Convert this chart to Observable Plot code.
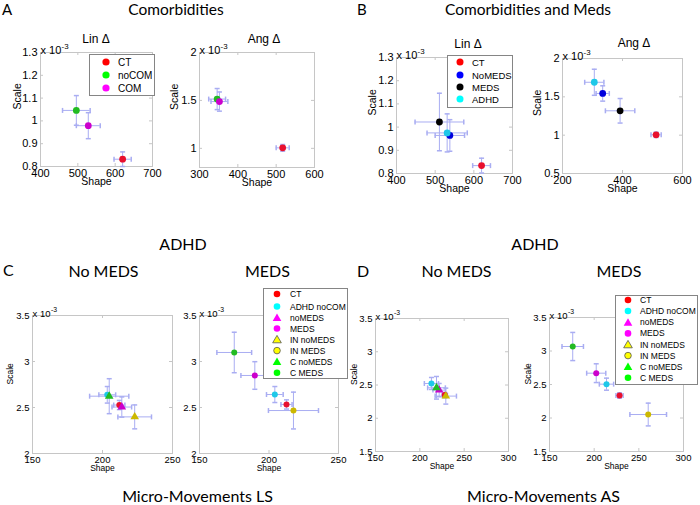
<!DOCTYPE html>
<html><head><meta charset="utf-8">
<script src="https://cdn.jsdelivr.net/npm/d3@7"></script>
<script src="https://cdn.jsdelivr.net/npm/@observablehq/plot@0.6"></script>
<style>
body{margin:0;background:#fff;}
#root{position:relative;width:700px;height:505px;overflow:hidden;background:#fff;}
.panel{position:absolute;}
.panel svg{background:transparent !important;max-width:none !important;overflow:visible;}
</style></head><body><div id="root"></div><script>
// ---------------- DATA (scale values are ×10^-3) ----------------
// A: Comorbidities
const groupsA = ["CT", "noCOM", "COM"];
const linA_shape    = [620, 496, 528];
const linA_shapeErr = [23, 37, 32];
const linA_scale    = [0.832, 1.046, 0.979];
const linA_scaleErr = [0.032, 0.065, 0.057];
const angA_shape    = [517, 346, 352];
const angA_shapeErr = [17, 22, 22];
const angA_scale    = [1.005, 1.514, 1.488];
const angA_scaleErr = [0.035, 0.11, 0.10];
// B: Comorbidities and Meds
const groupsB = ["CT", "NoMEDS", "MEDS", "ADHD"];
const linB_shape    = [620, 538, 511, 531];
const linB_shapeErr = [23, 38, 63, 52];
const linB_scale    = [0.834, 0.964, 1.022, 0.975];
const linB_scaleErr = [0.032, 0.068, 0.124, 0.082];
const angB_shape    = [512, 334, 392, 306];
const angB_shapeErr = [17, 22, 49, 32];
const angB_scale    = [1.005, 1.544, 1.318, 1.69];
const angB_scaleErr = [0.035, 0.10, 0.16, 0.17];
// C / D groups
const groupsNoMeds = ["CT", "ADHD noCOM", "noMEDS", "IN noMEDS", "C noMEDS"];
const groupsMeds   = ["CT", "ADHD noCOM", "MEDS", "IN MEDS", "C MEDS"];
// C: Micro-Movements LS
const lsNo_shape      = [212, 203.4, 213.8, 223, 204.8];
const lsNo_shapeErr   = [4, 6, 7, 12, 14];
const lsNo_scale      = [2.527, 2.638, 2.505, 2.398, 2.623];
const lsNo_scaleErr   = [0.05, 0.09, 0.11, 0.13, 0.19];
const lsMeds_shape    = [212.6, 204.2, 189.8, 217.6, 175];
const lsMeds_shapeErr = [4, 6, 10, 18, 12.5];
const lsMeds_scale    = [2.533, 2.641, 2.848, 2.467, 3.098];
const lsMeds_scaleErr = [0.05, 0.087, 0.15, 0.2, 0.22];
// D: Micro-Movements AS
const asNo_shape      = [228.1, 213.1, 221.8, 229.3, 218.8];
const asNo_shapeErr   = [3, 8, 7, 12, 10];
const asNo_scale      = [2.348, 2.523, 2.423, 2.333, 2.458];
const asNo_scaleErr   = [0.04, 0.09, 0.10, 0.12, 0.17];
const asMeds_shape    = [228.4, 213.8, 202.3, 260.5, 176];
const asMeds_shapeErr = [4, 8, 10.7, 20.5, 12];
const asMeds_scale    = [2.336, 2.505, 2.669, 2.052, 3.067];
const asMeds_scaleErr = [0.04, 0.09, 0.14, 0.17, 0.21];
// tick labels
const linTicksX  = [400, 500, 600, 700];
const linTicksY  = [0.8, 0.9, 1, 1.1, 1.2, 1.3];
const angATicksX = [300, 400, 500, 600];
const angATicksY = [1, 1.5, 2];
const angBTicksX = [200, 400, 600];
const angBTicksY = [0.5, 1, 1.5, 2];
const lsTicksX   = [150, 200, 250];
const lsTicksY   = [2, 2.5, 3, 3.5];
const asTicksX   = [150, 200, 250, 300];
const asTicksY   = [1.5, 2, 2.5, 3, 3.5];
// legends
const legendA  = ["CT", "noCOM", "COM"];
const legendB  = ["CT", "NoMEDS", "MEDS", "ADHD"];
const legendCD = ["CT", "ADHD noCOM", "noMEDS", "MEDS", "IN noMEDS", "IN MEDS", "C noMEDS", "C MEDS"];

// ---------------- STYLE ----------------
const ERR = "#a9adf2", FRAME = "#c6c6c6";
const C = {red:"#e8102e", green:"#22bb22", magenta:"#cc00cc", cyan:"#1ec8e8", blue:"#0000dd", black:"#000000", yellow:"#ccb800"};
const LC = {red:"#ff0000", green:"#00ff00", magenta:"#ff00ff", cyan:"#00ffff", blue:"#0000ff", black:"#000000", yellow:"#ffff00"};
const colA = {CT:"red", noCOM:"green", COM:"magenta"};
const colB = {CT:"red", NoMEDS:"blue", MEDS:"black", ADHD:"cyan"};
const colCD = {"CT":"red", "ADHD noCOM":"cyan", "noMEDS":"magenta", "MEDS":"magenta", "IN noMEDS":"yellow", "IN MEDS":"yellow", "C noMEDS":"green", "C MEDS":"green"};
const triGroups = ["noMEDS", "IN noMEDS", "C noMEDS"];
const FONT = "'Liberation Sans', Arial, sans-serif";
const TFONT = "Lato, 'Open Sans', sans-serif";

function rows(groups, shape, shapeErr, scale, scaleErr) {
  return groups.map((g, i) => ({group: g, shape: shape[i], shapeErr: shapeErr[i], scale: scale[i], scaleErr: scaleErr[i]}));
}
const hCap = {draw(ctx, size){ const r = Math.sqrt(size / Math.PI); ctx.moveTo(-r, 0); ctx.lineTo(r, 0); }};
const vCap = {draw(ctx, size){ const r = Math.sqrt(size / Math.PI); ctx.moveTo(0, -r); ctx.lineTo(0, r); }};

const root = document.getElementById("root");

function drawPanel(cfg) {
  const {frame: [fl, ft, fr, fb], xDomain, xTicks, yDomain, yTicks, data, colors, scaleDx, small} = cfg;
  const mL = 36, mR = 16, mT = 18, mB = 28;
  const w = fr - fl, h = fb - ft;
  const fs = small ? 9.5 : 11;
  const lfs = small ? 8.5 : 10.5;
  const fmt = d => String(+d.toFixed(3));
  const isTri = d => triGroups.includes(d.group);
  const fillOf = d => C[colors[d.group]];
  const marks = [
    Plot.frame({stroke: FRAME}),
    Plot.tickX(xTicks, {x: d => d, insetTop: h - 3, stroke: FRAME}),
    Plot.tickX(xTicks, {x: d => d, insetBottom: h - 3, stroke: FRAME}),
    Plot.tickY(yTicks, {y: d => d, insetRight: w - 3, stroke: FRAME}),
    Plot.tickY(yTicks, {y: d => d, insetLeft: w - 3, stroke: FRAME}),
    Plot.axisX({ticks: xTicks, tickFormat: fmt, tickSize: 0, tickPadding: 3, fontSize: fs, label: null}),
    Plot.axisY({ticks: yTicks, tickFormat: fmt, tickSize: 0, tickPadding: 3, fontSize: fs, label: null}),
    Plot.ruleY(data, {y: "scale", x1: d => d.shape - d.shapeErr, x2: d => d.shape + d.shapeErr, stroke: ERR}),
    Plot.ruleX(data, {x: "shape", y1: d => d.scale - d.scaleErr, y2: d => d.scale + d.scaleErr, stroke: ERR}),
    Plot.dot(data, {x: d => d.shape - d.shapeErr, y: "scale", symbol: vCap, r: 2.5, stroke: ERR}),
    Plot.dot(data, {x: d => d.shape + d.shapeErr, y: "scale", symbol: vCap, r: 2.5, stroke: ERR}),
    Plot.dot(data, {x: "shape", y: d => d.scale - d.scaleErr, symbol: hCap, r: 2.5, stroke: ERR}),
    Plot.dot(data, {x: "shape", y: d => d.scale + d.scaleErr, symbol: hCap, r: 2.5, stroke: ERR}),
    Plot.dot(data.filter(d => !isTri(d)), {x: "shape", y: "scale", r: small ? 3 : 3.4, fill: fillOf, stroke: "none"}),
    Plot.dot(data.filter(isTri), {x: "shape", y: "scale", symbol: "triangle", r: 3.2, fill: fillOf, stroke: "none"}),
    Plot.text(["Shape"], {frameAnchor: "bottom", dy: small ? 17 : 18, fontSize: lfs, text: d => d}),
    Plot.text(["x 10"], {frameAnchor: "top-left", textAnchor: "start", lineAnchor: "bottom", dy: 1, fontSize: fs, text: d => d}),
    Plot.text(["-3"], {frameAnchor: "top-left", textAnchor: "start", lineAnchor: "bottom", dx: small ? 18.5 : 21, dy: -4, fontSize: fs * 0.72, text: d => d})
  ];
  if (scaleDx != null) marks.push(Plot.text(["Scale"], {frameAnchor: "left", dx: scaleDx, rotate: -90, fontSize: lfs, text: d => d}));
  const chart = Plot.plot({
    width: w + mL + mR, height: h + mT + mB,
    marginLeft: mL, marginRight: mR, marginTop: mT, marginBottom: mB,
    x: {domain: xDomain}, y: {domain: yDomain},
    color: {type: "identity"},
    style: {fontFamily: FONT, color: "#000", background: "transparent", overflow: "visible"},
    marks
  });
  const div = document.createElement("div");
  div.className = "panel";
  div.style.left = (fl - mL) + "px";
  div.style.top = (ft - mT) + "px";
  div.style.width = (w + mL + mR) + "px";
  div.appendChild(chart);
  root.appendChild(div);
}

// Panel A
drawPanel({frame: [40, 52, 152, 166], xDomain: [400, 700], xTicks: linTicksX, yDomain: [0.8, 1.3], yTicks: linTicksY,
  data: rows(groupsA, linA_shape, linA_shapeErr, linA_scale, linA_scaleErr), colors: colA, scaleDx: -23});
drawPanel({frame: [199, 52, 314, 167], xDomain: [300, 600], xTicks: angATicksX, yDomain: [0.8, 2], yTicks: angATicksY,
  data: rows(groupsA, angA_shape, angA_shapeErr, angA_scale, angA_scaleErr), colors: colA, scaleDx: -25});
// Panel B
drawPanel({frame: [396, 57, 512, 173], xDomain: [400, 700], xTicks: linTicksX, yDomain: [0.8, 1.3], yTicks: linTicksY,
  data: rows(groupsB, linB_shape, linB_shapeErr, linB_scale, linB_scaleErr), colors: colB, scaleDx: -24});
drawPanel({frame: [562, 58, 682, 173], xDomain: [200, 600], xTicks: angBTicksX, yDomain: [0.5, 2], yTicks: angBTicksY,
  data: rows(groupsB, angB_shape, angB_shapeErr, angB_scale, angB_scaleErr), colors: colB, scaleDx: -25});
// Panel C
drawPanel({frame: [32, 315, 172, 453], xDomain: [150, 250], xTicks: lsTicksX, yDomain: [2, 3.5], yTicks: lsTicksY, small: true,
  data: rows(groupsNoMeds, lsNo_shape, lsNo_shapeErr, lsNo_scale, lsNo_scaleErr), colors: colCD, scaleDx: -22});
drawPanel({frame: [199, 315, 338, 453], xDomain: [150, 250], xTicks: lsTicksX, yDomain: [2, 3.5], yTicks: lsTicksY, small: true,
  data: rows(groupsMeds, lsMeds_shape, lsMeds_shapeErr, lsMeds_scale, lsMeds_scaleErr), colors: colCD});
// Panel D
drawPanel({frame: [375, 318, 508, 451], xDomain: [150, 300], xTicks: asTicksX, yDomain: [1.5, 3.5], yTicks: asTicksY, small: true,
  data: rows(groupsNoMeds, asNo_shape, asNo_shapeErr, asNo_scale, asNo_scaleErr), colors: colCD, scaleDx: -21});
drawPanel({frame: [549, 317, 683, 451], xDomain: [150, 300], xTicks: asTicksX, yDomain: [1.5, 3.5], yTicks: asTicksY, small: true,
  data: rows(groupsMeds, asMeds_shape, asMeds_shapeErr, asMeds_scale, asMeds_scaleErr), colors: colCD, scaleDx: -21});

// ---------------- overlay: titles and legends ----------------
const ov = d3.select("#root").append("svg")
  .attr("width", 700).attr("height", 505)
  .style("position", "absolute").style("left", "0px").style("top", "0px");

const titles = [
  {t: "A", x: 2, y: 15, a: "start", f: TFONT, s: 15},
  {t: "Comorbidities", x: 176, y: 15, a: "middle", f: TFONT, s: 15.5},
  {t: "B", x: 357, y: 15, a: "start", f: TFONT, s: 15},
  {t: "Comorbidities and Meds", x: 528, y: 15, a: "middle", f: TFONT, s: 15.5},
  {t: "Lin Δ", x: 96, y: 43, a: "middle", f: FONT, s: 12},
  {t: "Ang Δ", x: 264, y: 43, a: "middle", f: FONT, s: 12},
  {t: "Lin Δ", x: 468, y: 48, a: "middle", f: FONT, s: 12},
  {t: "Ang Δ", x: 634, y: 47, a: "middle", f: FONT, s: 12},
  {t: "ADHD", x: 183, y: 250, a: "middle", f: TFONT, s: 16},
  {t: "ADHD", x: 535, y: 250, a: "middle", f: TFONT, s: 16},
  {t: "C", x: 3, y: 276, a: "start", f: TFONT, s: 16},
  {t: "No MEDS", x: 103.5, y: 276.5, a: "middle", f: TFONT, s: 16},
  {t: "MEDS", x: 267.5, y: 277, a: "middle", f: TFONT, s: 16},
  {t: "D", x: 357, y: 277, a: "start", f: TFONT, s: 16},
  {t: "No MEDS", x: 456.5, y: 277, a: "middle", f: TFONT, s: 16},
  {t: "MEDS", x: 619, y: 277, a: "middle", f: TFONT, s: 16},
  {t: "Micro-Movements LS", x: 197.5, y: 502, a: "middle", f: TFONT, s: 16},
  {t: "Micro-Movements AS", x: 543.5, y: 502, a: "middle", f: TFONT, s: 16}
];
ov.selectAll("text.title").data(titles).join("text").attr("class", "title")
  .attr("x", d => d.x).attr("y", d => d.y).attr("text-anchor", d => d.a)
  .attr("font-family", d => d.f).attr("font-size", d => d.s).attr("fill", "#000").text(d => d.t);

function legend(labels, colors, box, mx, tx, ys, fs, r) {
  const g = ov.append("g");
  g.append("rect").attr("x", box[0] + 0.5).attr("y", box[1] + 0.5).attr("width", box[2] - box[0]).attr("height", box[3] - box[1])
    .attr("fill", "#fff").attr("stroke", "#858585").attr("stroke-width", 1);
  labels.forEach((lab, i) => {
    const c = LC[colors[lab]];
    const edge = colors[lab] === "yellow" ? "#555" : "none";
    if (triGroups.includes(lab)) {
      const s = r * 1.25;
      g.append("path").attr("d", `M${mx},${ys[i] - s}L${mx + s * 1.05},${ys[i] + s * 0.8}L${mx - s * 1.05},${ys[i] + s * 0.8}Z`)
        .attr("fill", c).attr("stroke", edge).attr("stroke-width", 0.8);
    } else {
      g.append("circle").attr("cx", mx).attr("cy", ys[i]).attr("r", r).attr("fill", c).attr("stroke", edge).attr("stroke-width", 0.8);
    }
    g.append("text").attr("x", tx).attr("y", ys[i]).attr("dominant-baseline", "central")
      .attr("font-family", FONT).attr("font-size", fs).attr("fill", "#000").text(lab);
  });
}
legend(legendA, colA, [89, 54, 154, 95], 106, 118, [62, 75, 88], 10, 3.6);
legend(legendB, colB, [447, 55, 512, 107], 460, 472, [62, 75, 87, 99], 9.5, 3.5);
legend(legendCD, colCD, [263, 288, 347, 378], 277, 290, [294, 306.5, 317.6, 328.5, 339.5, 350.6, 361.7, 372.7], 8.5, 3.3);
legend(legendCD, colCD, [615, 295, 697, 384], 628, 640, [300, 311, 322.4, 333.4, 344.5, 355.6, 366.7, 377.7], 8.5, 3.3);
</script></body></html>
